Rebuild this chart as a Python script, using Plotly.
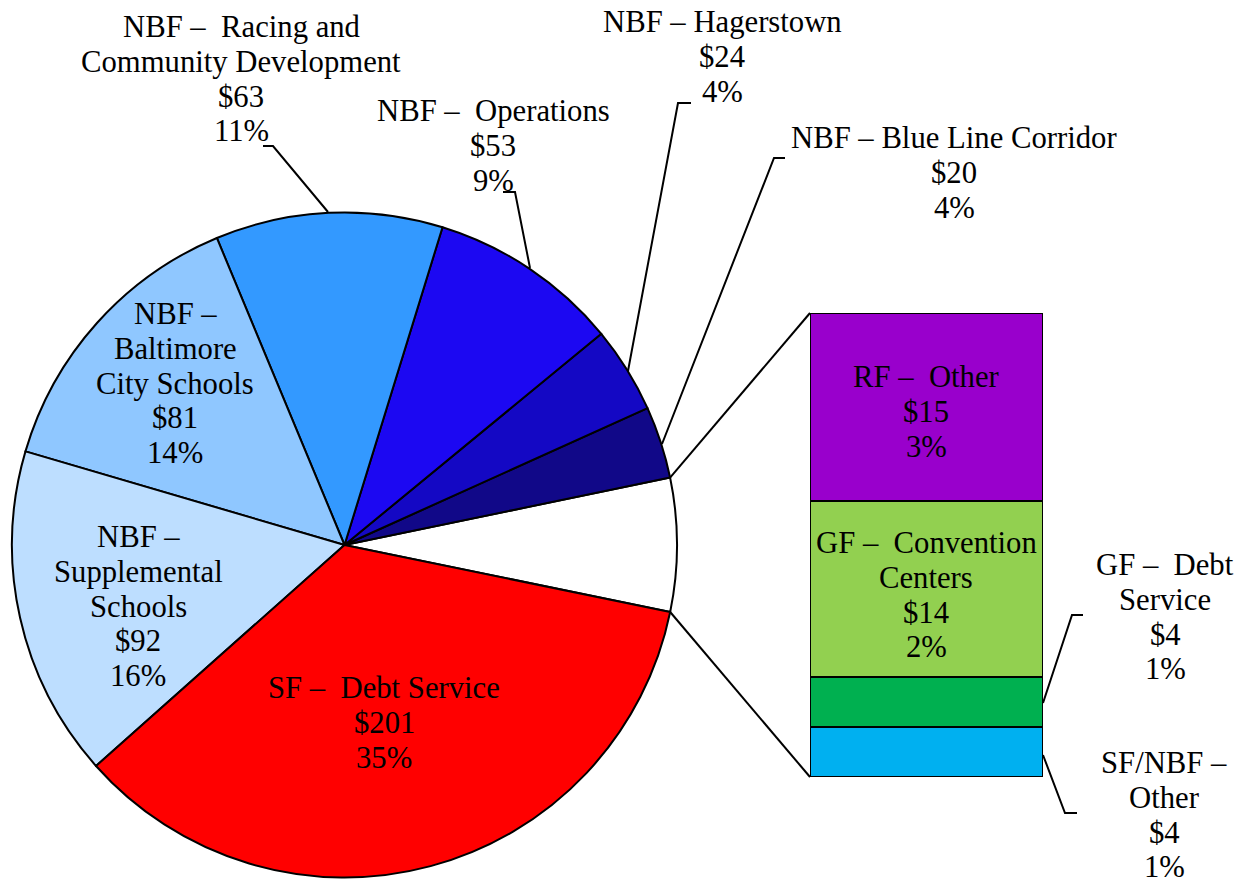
import math
import plotly.graph_objects as go

W, H = 1244, 882

# ---------------- data ----------------
pie_categories = ["NBF – Blue Line Corridor", "NBF – Hagerstown", "NBF –\u00a0 Operations",
                  "NBF –\u00a0 Racing and<br>Community Development", "NBF –<br>Baltimore<br>City Schools",
                  "NBF –<br>Supplemental<br>Schools", "SF –\u00a0 Debt Service"]
pie_values = [20, 24, 53, 63, 81, 92, 201]
pie_colors = ["#110888", "#1408C4", "#1C08F2", "#3399FF", "#8FC7FF", "#BDDEFF", "#FF0000"]

bar_categories = ["SF/NBF –<br>Other", "GF –\u00a0 Debt<br>Service", "GF –\u00a0 Convention<br>Centers", "RF –\u00a0 Other"]
bar_values = [4, 4, 14, 15]
bar_colors = ["#00B0F0", "#00B050", "#92D050", "#9900CC"]

other_value = sum(bar_values)
total = sum(pie_values) + other_value

# ---------------- layout geometry (pixels) ----------------
pie_left, pie_right, pie_top, pie_bottom = 12, 677, 212.5, 877.5
rotation = 78.3
bar_left, bar_right, bar_top, bar_bottom = 810, 1043, 313, 777
FONT = "Liberation Serif"
FS = 30.7
LINE = 34.8
LW = 2


def px(x, y):
    return x / W, 1 - y / H


fig = go.Figure()

fig.add_trace(go.Pie(
    values=[other_value] + pie_values,
    labels=["Other"] + pie_categories,
    marker=dict(colors=["#FFFFFF"] + pie_colors, line=dict(color="black", width=LW)),
    sort=False, direction="counterclockwise", rotation=rotation,
    textinfo="none", hoverinfo="label+value", showlegend=False,
    domain=dict(x=[pie_left / W, pie_right / W], y=[1 - pie_bottom / H, 1 - pie_top / H]),
))

for cat, v, c in zip(bar_categories, bar_values, bar_colors):
    fig.add_trace(go.Bar(
        x=[0], y=[v], width=1, name=cat.replace("<br>", " "),
        marker=dict(color=c, line=dict(color="black", width=LW)),
        showlegend=False, hoverinfo="name+y",
    ))

# connector lines from the "other" slice to the bar
cx = (pie_left + pie_right) / 2
cy = (pie_top + pie_bottom) / 2
r = (pie_right - pie_left) / 2
a_up = math.radians(90 - rotation)
a_lo = math.radians(90 - rotation - other_value / total * 360)
shapes = []
for a, by in [(a_up, bar_top), (a_lo, bar_bottom)]:
    x0, y0 = px(cx + r * math.cos(a), cy - r * math.sin(a))
    x1, y1 = px(bar_left, by)
    shapes.append(dict(type="line", xref="paper", yref="paper", x0=x0, y0=y0, x1=x1, y1=y1,
                       line=dict(color="black", width=LW)))

leaders = [
    [(263, 146), (273, 146), (328, 212)],
    [(503, 192), (515, 192), (530, 268)],
    [(691, 103), (678, 103), (628, 371)],
    [(785, 158), (774, 158), (662, 444)],
    [(1083, 615), (1072, 615), (1043, 703)],
    [(1043, 755), (1065, 813), (1077, 813)],
]
for pts in leaders:
    path = ""
    for i, (x, y) in enumerate(pts):
        X, Y = px(x, y)
        path += ("M" if i == 0 else "L") + f"{X},{Y} "
    shapes.append(dict(type="path", xref="paper", yref="paper", path=path.strip(),
                       line=dict(color="black", width=LW)))

# label anchors: (center x, first line center y)
pie_label_pos = [(954, 138), (722, 22), (493, 111), (241, 27), (175, 314), (138, 537), (384, 688)]
bar_label_pos = [(1164, 763), (1165, 565), (926, 543), (926, 377)]

annotations = []


def add_label(text, value, pos):
    lines = text.split("<br>") + [f"${value}", f"{round(value / total * 100)}%"]
    x, y0 = pos
    for i, ln in enumerate(lines):
        X, Y = px(x, y0 + i * LINE)
        annotations.append(dict(x=X, y=Y, xref="paper", yref="paper", text=ln, showarrow=False,
                                xanchor="center", yanchor="middle",
                                font=dict(family=FONT, size=FS, color="black")))


for t, v, p in zip(pie_categories, pie_values, pie_label_pos):
    add_label(t, v, p)
for t, v, p in zip(bar_categories, bar_values, bar_label_pos):
    add_label(t, v, p)

fig.update_layout(
    width=W, height=H,
    margin=dict(l=0, r=0, t=0, b=0),
    paper_bgcolor="white", plot_bgcolor="rgba(0,0,0,0)",
    barmode="stack",
    xaxis=dict(domain=[bar_left / W, bar_right / W], range=[-0.5, 0.5], visible=False, fixedrange=True),
    yaxis=dict(domain=[1 - bar_bottom / H, 1 - bar_top / H], range=[0, other_value], visible=False, fixedrange=True),
    shapes=shapes, annotations=annotations,
    font=dict(family=FONT),
)

fig.write_html("out.html", config={"displayModeBar": False},
               post_script="document.body.style.margin='0';document.body.style.overflow='hidden';")
